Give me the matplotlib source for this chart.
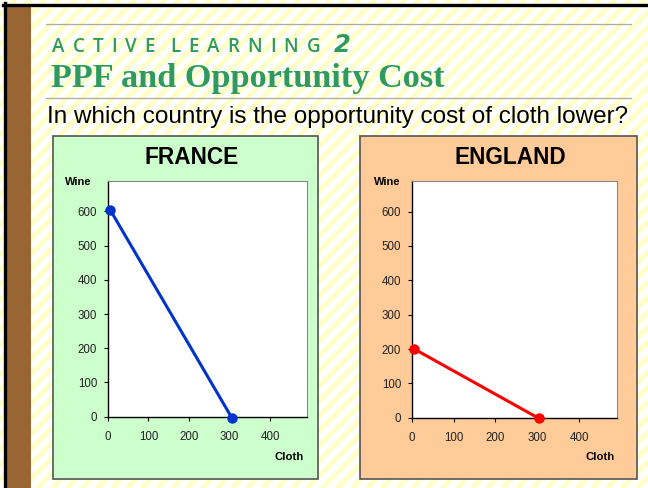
import matplotlib.pyplot as plt
from matplotlib.patches import Rectangle

W, H = 648, 488

# chart data
x_ticks = [0, 100, 200, 300, 400]
y_ticks = [0, 100, 200, 300, 400, 500, 600]
france_cloth = [6, 305]
france_wine = [605, -3]
england_cloth = [6, 304]
england_wine = [200, -2]

GREEN_TXT = '#2E9A62'


def frac(left, top, right, bottom):
    # pixel box -> figure fraction rect
    return [left / W, 1 - bottom / H, (right - left) / W, (bottom - top) / H]


fig = plt.figure(figsize=(6.48, 4.88), dpi=100)
bg = fig.add_axes([0, 0, 1, 1])
bg.set_xlim(0, W)
bg.set_ylim(H, 0)
bg.axis('off')
renderer = fig.canvas.get_renderer()

# striped slide background
bg.add_patch(Rectangle((0, 0), W, H, facecolor='white', edgecolor='none', zorder=0))
for c in range(-H, W + 30, 15):
    bg.plot([c, c + H], [H, 0], color='#FFFFC8', lw=3.6, solid_capstyle='butt', zorder=1)

# frame and brown side bar
bg.plot([3, W], [4.5, 4.5], color='black', lw=2.4, zorder=5)
bg.plot([5, 5], [3, H], color='black', lw=2.4, zorder=5)
bg.add_patch(Rectangle((7, 6), 24, H, facecolor='#996633', edgecolor='none', zorder=4))

# header rules
bg.plot([46, 631], [24, 24], color='#AAAAAA', lw=0.9, zorder=2)
bg.plot([46, 631], [98, 98], color='#AAAAAA', lw=0.9, zorder=2)

# letter-spaced "ACTIVE LEARNING"
kicker = 'ACTIVE LEARNING'
letters = []
for ch in kicker:
    t = bg.text(0, 46.5, ch, color=GREEN_TXT, fontsize=13.5, family='Open Sans',
                weight='semibold', ha='left', va='center', zorder=3)
    letters.append(t)
widths = [t.get_window_extent(renderer).width if ch != ' ' else 0
          for t, ch in zip(letters, kicker)]
start, end, word_gap = 52, 320, 15
track = (end - start - word_gap - sum(widths)) / 12
widths[kicker.index(' ')] = word_gap - 2 * track
x = start
for t, w in zip(letters, widths):
    t.set_x(x)
    x += w + track

bg.text(334, 44.5, '2', color=GREEN_TXT, fontsize=17.5, family='DejaVu Sans',
        weight='bold', style='italic', ha='left', va='center', zorder=3)
bg.text(51, 87, 'PPF and Opportunity Cost', color=GREEN_TXT, fontsize=24.7,
        family='Liberation Serif', weight='bold', ha='left', va='baseline', zorder=3)
bg.text(47, 117, 'In which country is the opportunity cost of cloth lower?',
        color='black', fontsize=17.5, family='Liberation Sans',
        ha='left', va='center', zorder=3)

# panels
bg.add_patch(Rectangle((53, 136), 265, 343, facecolor='#CCFFCC',
                       edgecolor='#555555', lw=1.2, zorder=2))
bg.add_patch(Rectangle((360, 136), 277, 343, facecolor='#FFCC99',
                       edgecolor='#555555', lw=1.2, zorder=2))


def draw_country(rect, name, title_x, wine_x, cloth_x, cloth, wine, color):
    ax = fig.add_axes(frac(*rect))
    ax.set_facecolor('white')
    ax.plot(cloth, wine, color=color, lw=2.2, marker='o', ms=6.5,
            clip_on=False, zorder=3)
    ax.set_xlim(0, 490)
    ax.set_ylim(0, 690)
    ax.set_xticks(x_ticks)
    ax.set_yticks(y_ticks)
    for s in ['top', 'right']:
        ax.spines[s].set_color('#888888')
        ax.spines[s].set_linewidth(0.8)
    for s in ['left', 'bottom']:
        ax.spines[s].set_color('black')
        ax.spines[s].set_linewidth(1.0)
    ax.tick_params(direction='out', length=3, width=0.8, color='black',
                   labelsize=8.3, labelcolor='#222222')
    ax.tick_params(axis='x', pad=7)
    ax.tick_params(axis='y', pad=4.5)
    for lab in ax.get_xticklabels() + ax.get_yticklabels():
        lab.set_family('Liberation Sans')
    bg.text(title_x, 158, name, fontsize=16.3, weight='bold', family='Liberation Sans',
            ha='center', va='center', zorder=3)
    bg.text(wine_x, 182, 'Wine', fontsize=8, weight='bold', family='Liberation Sans',
            ha='center', va='center', zorder=3)
    bg.text(cloth_x, 457, 'Cloth', fontsize=8.2, weight='bold', family='Liberation Sans',
            ha='center', va='center', zorder=3)
    return ax


draw_country((107.7, 180.7, 307, 416.7), 'FRANCE', 192, 78, 289,
             france_cloth, france_wine, '#0033CC')
draw_country((411.7, 180.7, 616.7, 417.7), 'ENGLAND', 510, 387, 600,
             england_cloth, england_wine, '#FF0000')

fig.savefig('out.png', dpi=100)
